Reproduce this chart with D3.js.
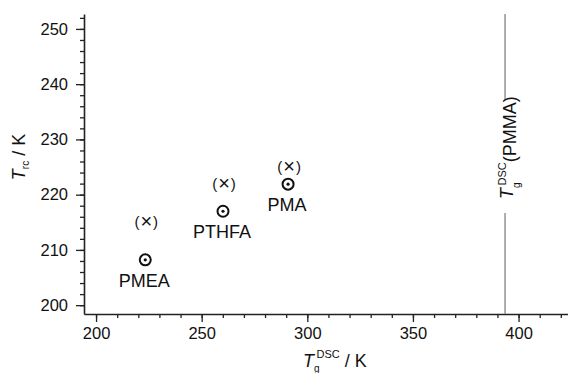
<!DOCTYPE html>
<html>
<head>
<meta charset="utf-8">
<script src="https://cdn.jsdelivr.net/npm/d3@7"></script>
<style>
  body { margin: 0; background: #fff; }
  svg text { font-family: "Liberation Sans", Arial, sans-serif; fill: #111; }
</style>
</head>
<body>
<svg id="chart" width="568" height="373"></svg>
<script>
'use strict';
const polymers = ["PMEA", "PTHFA", "PMA"];
const tgDSC = [223.3, 260.1, 290.9];
const trc = [208.2, 217.0, 221.9];
const trcCross = [215.0, 222.0, 225.0];
const pmmaTg = 393.6;
const xTicks = [200, 250, 300, 350, 400];
const yTicks = [200, 210, 220, 230, 240, 250];

let svg = d3.select("#chart"),
    margin = {top: 14, right: 0, bottom: 59, left: 84},
    width = +svg.attr("width"),
    height = +svg.attr("height");

let x = d3.scaleLinear()
    .domain([194.3, 423.4])
    .range([margin.left, width - margin.right]);
let y = d3.scaleLinear()
    .domain([198.4, 252.7])
    .range([height - margin.bottom, margin.top]);

// minor ticks
svg.append("g")
    .attr("transform", "translate(0," + (height - margin.bottom) + ")")
    .call(d3.axisBottom(x).tickValues(d3.range(200, 421, 10)).tickSize(4).tickFormat(""))
    .call(g => g.select(".domain").remove());
svg.append("g")
    .attr("transform", "translate(" + margin.left + ",0)")
    .call(d3.axisLeft(y).tickValues(d3.range(200, 253, 2)).tickSize(4).tickFormat(""))
    .call(g => g.select(".domain").remove());

svg.append("g")
    .attr("transform", "translate(0," + (height - margin.bottom) + ")")
    .call(d3.axisBottom(x).tickValues(xTicks).tickSize(8).tickSizeOuter(0).tickPadding(5));
svg.append("g")
    .attr("transform", "translate(" + margin.left + ",0)")
    .call(d3.axisLeft(y).tickValues(yTicks).tickSize(8).tickSizeOuter(0).tickPadding(8));

svg.selectAll(".tick line").attr("stroke", "#222").attr("stroke-width", 1.3);
svg.selectAll(".domain").attr("stroke", "#222").attr("stroke-width", 1.6);
svg.selectAll(".tick text").attr("font-size", 16.5).attr("fill", "#111")
    .style("font-family", "Liberation Sans, Arial, sans-serif");

// axis titles
let xt = svg.append("text")
    .attr("x", 303).attr("y", 367)
    .attr("text-anchor", "start")
    .attr("font-size", 18);
xt.append("tspan").attr("font-style", "italic").text("T");
xt.append("tspan").attr("font-size", 10).attr("dy", 5).text("g");
xt.append("tspan").attr("font-size", 11).attr("dy", -14).attr("dx", -3).text("DSC");
xt.append("tspan").attr("dy", 9).text(" / K");

let yt = svg.append("text")
    .attr("transform", "translate(25,157) rotate(-90)")
    .attr("text-anchor", "middle")
    .attr("font-size", 18);
yt.append("tspan").attr("font-style", "italic").text("T");
yt.append("tspan").attr("font-size", 10).attr("dy", 4).text("rc");
yt.append("tspan").attr("dy", -4).text(" / K");

// PMMA Tg line
let xp = x(pmmaTg);
svg.append("line")
    .attr("x1", xp).attr("x2", xp)
    .attr("y1", margin.top).attr("y2", 100)
    .attr("stroke", "#777").attr("stroke-width", 1.2);
svg.append("line")
    .attr("x1", xp).attr("x2", xp)
    .attr("y1", 213).attr("y2", height - margin.bottom)
    .attr("stroke", "#777").attr("stroke-width", 1.2);
let pt = svg.append("text")
    .attr("transform", "translate(" + (xp + 11) + ",199) rotate(-90)")
    .attr("text-anchor", "start")
    .attr("font-size", 18);
pt.append("tspan").attr("font-style", "italic").attr("dy", -3).text("T");
pt.append("tspan").attr("font-size", 10).attr("dy", 7).text("g");
pt.append("tspan").attr("font-size", 11).attr("dy", -14).attr("dx", -3).text("DSC");
pt.append("tspan").attr("dy", 10).text("(PMMA)");

// points
let g = svg.selectAll("g.pt")
    .data(polymers)
    .enter().append("g").attr("class", "pt");
g.append("circle")
    .attr("cx", (d, i) => x(tgDSC[i]))
    .attr("cy", (d, i) => y(trc[i]))
    .attr("r", 5.5)
    .attr("fill", "none")
    .attr("stroke", "#111")
    .attr("stroke-width", 2);
g.append("circle")
    .attr("cx", (d, i) => x(tgDSC[i]))
    .attr("cy", (d, i) => y(trc[i]))
    .attr("r", 1.6)
    .attr("fill", "#111");
g.append("text")
    .attr("x", (d, i) => x(tgDSC[i]) - 1)
    .attr("y", (d, i) => y(trc[i]) + 27)
    .attr("text-anchor", "middle")
    .attr("font-size", 18)
    .text(d => d);
let cross = g.append("text")
    .attr("x", (d, i) => x(tgDSC[i]) + 1)
    .attr("y", (d, i) => y(trcCross[i]) + 5)
    .attr("text-anchor", "middle")
    .attr("font-size", 15);
cross.append("tspan").text("(");
cross.append("tspan").attr("font-size", 20).attr("dx", 1).attr("dy", 1).text("×");
cross.append("tspan").attr("dx", 1).attr("dy", -1).text(")");
</script>
</body>
</html>
